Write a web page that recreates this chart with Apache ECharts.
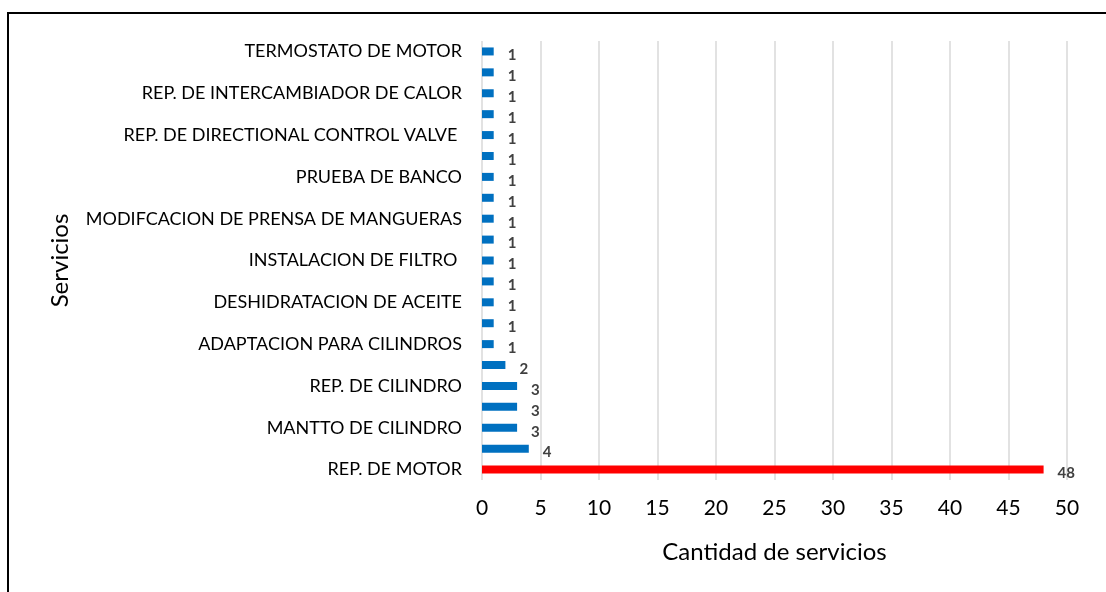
<!DOCTYPE html>
<html>
<head>
<meta charset="utf-8">
<script src="https://cdn.jsdelivr.net/npm/echarts@6/dist/echarts.min.js"></script>
<style>
  html, body { margin: 0; padding: 0; background: #fff; }
  #chart { width: 1106px; height: 592px; }
</style>
</head>
<body>
<div id="chart"></div>
<script>
// categories from bottom to top (only every other one is labelled in the original)
const categories = [
  'REP. DE MOTOR', '', 'MANTTO DE CILINDRO', '', 'REP. DE CILINDRO', '',
  'ADAPTACION PARA CILINDROS', '', 'DESHIDRATACION DE ACEITE', '',
  'INSTALACION DE FILTRO ', '', 'MODIFCACION DE PRENSA DE MANGUERAS', '',
  'PRUEBA DE BANCO', '', 'REP. DE DIRECTIONAL CONTROL VALVE ', '',
  'REP. DE INTERCAMBIADOR DE CALOR', '', 'TERMOSTATO DE MOTOR'
];
const servicios = [48, 4, 3, 3, 3, 2, 1, 1, 1, 1, 1, 1, 1, 1, 1, 1, 1, 1, 1, 1, 1];
const xTicks = [0, 50, 5]; // min, max, step

const font = 'Lato, "Open Sans", sans-serif';
const maxVal = Math.max.apply(null, servicios);

const chart = echarts.init(document.getElementById('chart'));
chart.setOption({
  animation: false,
  backgroundColor: '#fff',
  graphic: [{
    type: 'rect',
    shape: { x: 8, y: 13, width: 1200, height: 700 },
    style: { fill: 'none', stroke: '#000', lineWidth: 2 }
  }],
  grid: { left: 482, right: 39, top: 41, bottom: 112 },
  xAxis: {
    type: 'value',
    min: xTicks[0], max: xTicks[1], interval: xTicks[2],
    name: 'Cantidad de servicios',
    nameLocation: 'middle',
    nameGap: 60,
    nameTextStyle: { fontFamily: font, fontSize: 24, color: '#000' },
    axisLine: { show: false },
    axisTick: { show: false },
    axisLabel: { fontFamily: font, fontSize: 21, color: '#000', margin: 18 },
    splitLine: { show: true, lineStyle: { color: '#d9d9d9', width: 1.5 } }
  },
  yAxis: {
    type: 'category',
    data: categories,
    name: 'Servicios',
    nameLocation: 'middle',
    nameGap: 410,
    nameTextStyle: { fontFamily: font, fontSize: 24, color: '#000' },
    axisLine: { show: false },
    axisTick: { show: false },
    axisLabel: { interval: 1, fontFamily: font, fontSize: 18, color: '#000', margin: 20 }
  },
  series: [{
    type: 'bar',
    barWidth: 8,
    data: servicios.map(v => v === maxVal ? { value: v, itemStyle: { color: '#ff0000' } } : v),
    itemStyle: { color: '#0070c0' },
    label: {
      show: true,
      position: 'right',
      distance: 14,
      offset: [0, 4],
      fontFamily: font,
      fontWeight: 'bold',
      fontSize: 15,
      color: '#404040'
    }
  }]
});
</script>
</body>
</html>
